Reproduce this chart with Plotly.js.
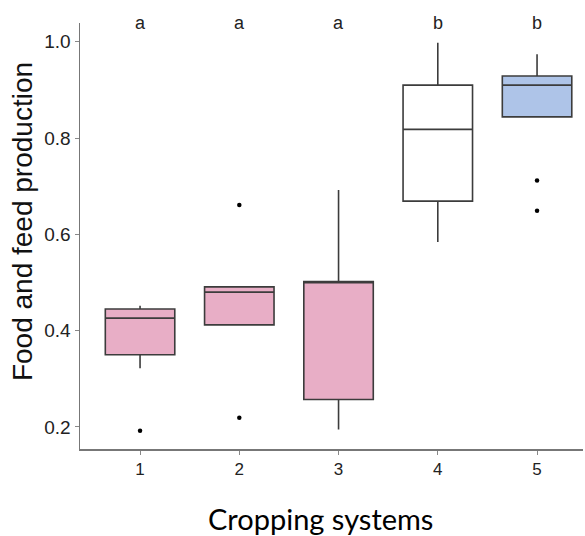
<!DOCTYPE html>
<html>
<head>
<meta charset="utf-8">
<script src="https://cdn.plot.ly/plotly-3.0.1.min.js"></script>
<style>html,body{margin:0;padding:0;background:#fff;}#chart{width:585px;height:536px;}</style>
</head>
<body>
<div id="chart"></div>
<script>
// Cropping systems (categories)
var systems = [1, 2, 3, 4, 5];
// Box statistics
var q1Vals     = [0.350, 0.412, 0.257, 0.669, 0.844];
var medianVals = [0.426, 0.480, 0.502, 0.818, 0.910];
var q3Vals     = [0.445, 0.491, 0.502, 0.910, 0.929];
var lowerVals  = [0.322, 0.412, 0.195, 0.584, 0.844];
var upperVals  = [0.452, 0.491, 0.692, 0.998, 0.974];
var fillColors = ['#E8AEC6', '#E8AEC6', '#E8AEC6', '#FFFFFF', '#AEC4E8'];
// Outliers
var outlierX = [1, 2, 2, 5, 5];
var outlierY = [0.192, 0.661, 0.219, 0.712, 0.649];
// Significance letters
var letters = ['a', 'a', 'a', 'b', 'b'];
var yTicks = [0.2, 0.4, 0.6, 0.8, 1.0];
var xTitle = 'Cropping systems';
var yTitle = 'Food and feed production';

var ARIAL = '"Liberation Sans", Arial, sans-serif';

var traces = systems.map(function (s, i) {
  return {
    type: 'box',
    x: [s],
    q1: [q1Vals[i]],
    median: [medianVals[i]],
    q3: [q3Vals[i]],
    lowerfence: [lowerVals[i]],
    upperfence: [upperVals[i]],
    width: 0.7,
    whiskerwidth: 0,
    fillcolor: fillColors[i],
    line: {color: '#3c3c3c', width: 1.6},
    boxpoints: false,
    hoverinfo: 'skip',
    showlegend: false
  };
});
traces.push({
  type: 'scatter',
  mode: 'markers',
  x: outlierX,
  y: outlierY,
  marker: {color: '#000', size: 4.5},
  showlegend: false,
  hoverinfo: 'skip'
});

var annotations = systems.map(function (s, i) {
  return {
    x: s, y: 1.0, xref: 'x', yref: 'paper',
    text: letters[i], showarrow: false,
    xanchor: 'center', yanchor: 'middle',
    font: {family: ARIAL, size: 18, color: '#222'}
  };
});
annotations.push({
  x: 0.478, y: -0.163, xref: 'paper', yref: 'paper',
  text: xTitle, showarrow: false, xanchor: 'center', yanchor: 'middle',
  font: {family: 'Lato, Carlito, sans-serif', size: 29, color: '#000'}
});
annotations.push({
  x: -0.113, y: 0.533, xref: 'paper', yref: 'paper',
  text: yTitle, showarrow: false, textangle: -90,
  xanchor: 'center', yanchor: 'middle',
  font: {family: ARIAL, size: 28, color: '#111'}
});

var layout = {
  width: 585, height: 536,
  margin: {l: 80, r: 2, t: 23, b: 87},
  paper_bgcolor: '#fff',
  plot_bgcolor: '#fff',
  showlegend: false,
  font: {family: ARIAL, color: '#222'},
  xaxis: {
    type: 'linear',
    range: [0.395, 5.463],
    tickvals: systems,
    ticktext: systems.map(String),
    ticks: 'outside', ticklen: 4, tickcolor: '#888', tickwidth: 1,
    showline: true, linecolor: '#777', linewidth: 1.5,
    showgrid: false, zeroline: false,
    tickfont: {family: ARIAL, size: 17, color: '#222'}
  },
  yaxis: {
    range: [0.1543, 1.039],
    tickvals: yTicks,
    tickformat: '.1f',
    ticks: 'outside', ticklen: 4, tickcolor: '#888', tickwidth: 1,
    showline: true, linecolor: '#777', linewidth: 1.5,
    showgrid: false, zeroline: false,
    tickfont: {family: ARIAL, size: 19, color: '#222'}
  },
  annotations: annotations
};

Plotly.newPlot('chart', traces, layout, {displayModeBar: false, staticPlot: true});
</script>
</body>
</html>
